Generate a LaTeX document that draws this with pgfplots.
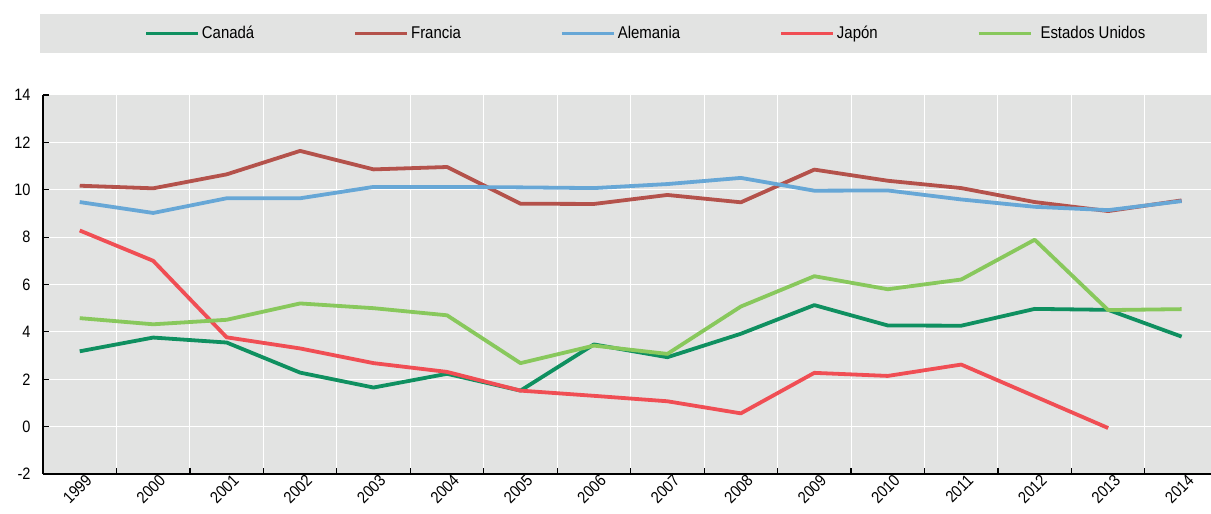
\documentclass[border=0pt]{standalone}
\usepackage{fontspec}
\setmainfont{Liberation Sans}[FakeStretch=0.88]
\usepackage{pgfplots}
\usepackage{pgfplotstable}
\pgfplotsset{compat=1.18}
\usetikzlibrary{backgrounds}

\definecolor{canada}{HTML}{0F9060}
\definecolor{francia}{HTML}{B4524B}
\definecolor{alemania}{HTML}{67A7D6}
\definecolor{japon}{HTML}{F04E54}
\definecolor{usa}{HTML}{88C85C}
\definecolor{bg}{HTML}{E2E3E2}

% idx 0 = 1999 ... 15 = 2014
\pgfplotstableread{
idx can   fra   ale   jap   usa
0   3.18  10.17 9.48  8.28  4.58
1   3.76  10.06 9.02  7.00  4.32
2   3.55  10.65 9.64  3.77  4.51
3   2.28  11.64 9.64  3.30  5.20
4   1.65  10.86 10.12 2.68  5.00
5   2.23  10.96 10.12 2.31  4.70
6   1.52  9.41  10.10 1.52  2.68
7   3.47  9.40  10.07 1.30  3.42
8   2.93  9.78  10.24 1.07  3.07
9   3.92  9.47  10.50 0.56  5.07
10  5.13  10.85 9.96  2.27  6.35
11  4.27  10.38 9.97  2.14  5.80
12  4.26  10.07 9.59  2.62  6.21
13  4.97  9.48  9.28  1.28  7.89
14  4.93  9.10  9.14  -0.06 4.92
15  3.80  9.55  9.52  nan   4.96
}\datatable

\begin{document}
\begin{tikzpicture}
\begin{axis}[
    name=ax,
    scale only axis,
    width=1168pt, height=379pt,
    xmin=-0.5, xmax=15.4,
    ymin=-2, ymax=14,
    axis background/.style={fill=bg},
    axis x line*=bottom,
    axis y line*=left,
    x axis line style={line width=2.2pt},
    y axis line style={line width=1.6pt},
    tick align=inside,
    major tick length=6pt,
    minor tick length=6pt,
    ytick={-2,0,...,14},
    ytick style={black, line width=1.2pt},
    xtick={0,...,15},
    xticklabels={1999,2000,2001,2002,2003,2004,2005,2006,2007,2008,2009,2010,2011,2012,2013,2014},
    major x tick style={draw=none},
    minor xtick={0.5,1.5,...,14.5},
    minor x tick style={black, line width=1.2pt},
    ymajorgrids, xminorgrids,
    major grid style={white, line width=1pt},
    minor grid style={white, line width=1pt},
    /pgf/number format/assume math mode=true,
    yticklabel style={font=\fontsize{16.5}{18}\selectfont, xshift=-9pt},
    xticklabel style={font=\fontsize{16.5}{18}\selectfont, rotate=45, anchor=north east, inner sep=1pt, xshift=5pt, yshift=-2pt},
    every axis plot/.append style={line width=3.8pt, line join=round},
    legend columns=5,
    legend cell align=left,
    legend image code/.code={\draw[#1] (0pt,0pt) -- (52pt,0pt);},
    legend style={
        at={(0.0864,1.1623)}, anchor=west,
        draw=none, fill=none, inner sep=0pt,
        font=\fontsize{17}{19}\selectfont,
        /tikz/every even column/.append style={column sep=97pt},
    },
]
\addplot[canada]   table[x=idx, y=can] {\datatable};
\addplot[francia]  table[x=idx, y=fra] {\datatable};
\addplot[alemania] table[x=idx, y=ale] {\datatable};
\addplot[japon]    table[x=idx, y=jap] {\datatable};
\addplot[usa]      table[x=idx, y=usa] {\datatable};
\legend{Canadá, Francia, Alemania, Japón, \hspace{6pt}Estados Unidos}
\end{axis}
\begin{scope}[on background layer]
\fill[bg, shift={(ax.south west)}] (-3pt,421pt) rectangle (1164pt,460pt);
\end{scope}
\pgfresetboundingbox
\path[shift={(ax.south west)}] (-43pt,-40pt) rectangle (1168pt,474pt);
\end{tikzpicture}
\end{document}
